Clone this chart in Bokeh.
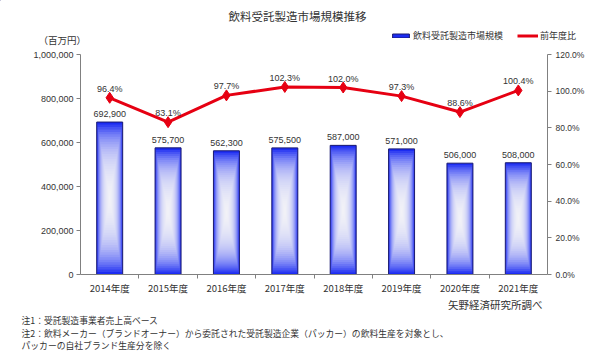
import numpy as np
from bokeh.plotting import figure
from bokeh.layouts import column
from bokeh.models import (Range1d, LinearAxis, FixedTicker, NumeralTickFormatter,
                          PrintfTickFormatter, Legend, LegendItem)
from bokeh.core.properties import value
from bokeh.embed import file_html
from bokeh.resources import INLINE

# ---- data ----
years = ["2014年度", "2015年度", "2016年度", "2017年度", "2018年度", "2019年度", "2020年度", "2021年度"]
market = [692900, 575700, 562300, 575500, 587000, 571000, 506000, 508000]
yoy = [96.4, 83.1, 97.7, 102.3, 102.0, 97.3, 88.6, 100.4]
left_ticks = [0, 200000, 400000, 600000, 800000, 1000000]
right_ticks = [0, 20, 40, 60, 80, 100, 120]

title_text = "飲料受託製造市場規模推移"
unit_text = "（百万円）"
bar_name = "飲料受託製造市場規模"
line_name = "前年度比"
source_text = "矢野経済研究所調べ"
notes = [
    "注1：受託製造事業者売上高ベース",
    "注2：飲料メーカー（ブランドオーナー）から委託された受託製造企業（パッカー）の飲料生産を対象とし、",
    "パッカーの自社ブランド生産分を除く",
]

JP = "Noto Sans CJK JP"
NUM = "Liberation Sans"
TXT = "#333333"
BLUE = "#1c2cf2"
EDGE = "#1a1a70"
RED = "#e60012"

W = 600
TOP_H = 48
MAIN_T, FRAME_H, MAIN_B = 6, 220, 23
MAIN_H = MAIN_T + FRAME_H + MAIN_B
BOT_H = 354 - TOP_H - MAIN_H


def blank(h):
    f = figure(width=W, height=h, output_backend="svg", toolbar_location=None,
               x_range=Range1d(0, W), y_range=Range1d(h, 0),
               x_axis_location=None, y_axis_location=None,
               min_border=0, title=None, frame_align=False)
    f.outline_line_color = None
    f.xgrid.visible = False
    f.ygrid.visible = False
    return f


# ---- top strip: title, unit, legend ----
top = blank(TOP_H)
top.text(x=[297], y=[15], text=[title_text], text_align="center", text_baseline="middle",
         text_font=value(JP), text_font_size="11.5px", text_color=TXT)
top.text(x=[38], y=[39], text=[unit_text], text_align="left", text_baseline="middle",
         text_font=value(JP), text_font_size="9.5px", text_color=TXT)
# off-screen stand-ins that only supply the legend keys
d_bar = top.vbar(x=[-1000], top=[0], width=1, fill_color=BLUE, line_color=EDGE, line_width=1)
d_line = top.line(x=[-1000, -999], y=[0, 0], line_color=RED, line_width=3)
d_sc = top.scatter(x=[-1000], y=[0], marker="diamond", size=7, fill_color=RED, line_color=RED)
leg = Legend(items=[LegendItem(label=bar_name, renderers=[d_bar]),
                    LegendItem(label=line_name, renderers=[d_line, d_sc])],
             location=(390, 6), orientation="horizontal",
             glyph_width=21, glyph_height=5, label_text_font=JP, label_text_font_size="9px",
             label_text_color=TXT, label_standoff=2, spacing=14, padding=0, margin=0,
             border_line_color=None, background_fill_alpha=0, label_height=12)
top.add_layout(leg, "center")

# ---- main chart ----
x = [i + 0.5 for i in range(len(years))]
bw = 0.445

p = figure(width=W, height=MAIN_H, output_backend="svg", toolbar_location=None,
           x_range=Range1d(0, len(years)), y_range=Range1d(0, 1_000_000),
           min_border_left=80, min_border_right=53, min_border_top=MAIN_T, min_border_bottom=MAIN_B,
           title=None, frame_align=False)
p.outline_line_color = None
p.xgrid.visible = False
p.ygrid.visible = False

ya = p.yaxis[0]
ya.ticker = FixedTicker(ticks=left_ticks)
ya.formatter = NumeralTickFormatter(format="0,0")
ya.axis_line_color = "#808080"
ya.major_tick_line_color = "#808080"
ya.major_tick_out = 4
ya.major_tick_in = 0
ya.minor_tick_line_color = None
ya.major_label_text_font = NUM
ya.major_label_text_font_size = "9px"
ya.major_label_text_color = TXT
ya.major_label_standoff = 3

xa = p.xaxis[0]
xa.ticker = FixedTicker(ticks=x, minor_ticks=list(range(1, len(years))))
xa.major_label_overrides = {xi: y for xi, y in zip(x, years)}
xa.axis_line_color = "#808080"
xa.major_tick_line_color = None
xa.major_tick_out = 0
xa.major_tick_in = 0
xa.minor_tick_line_color = "#808080"
xa.minor_tick_out = 4
xa.minor_tick_in = 0
xa.major_label_text_font = JP
xa.major_label_text_font_size = "9.5px"
xa.major_label_text_color = TXT
xa.major_label_standoff = 2

p.extra_y_ranges = {"pct": Range1d(0, 120)}
ra = LinearAxis(y_range_name="pct", ticker=FixedTicker(ticks=right_ticks),
                formatter=PrintfTickFormatter(format="%.1f%%"))
ra.axis_line_color = "#808080"
ra.major_tick_line_color = "#808080"
ra.major_tick_out = 4
ra.major_tick_in = 0
ra.minor_tick_line_color = None
ra.major_label_text_font = NUM
ra.major_label_text_font_size = "8.5px"
ra.major_label_text_color = TXT
ra.major_label_standoff = 4
p.add_layout(ra, "right")

# bars with a centre-bright gradient built from nested translucent rectangles
p.vbar(x=x, top=market, width=bw, fill_color=BLUE, line_color=None)
N = 30
gx, gy, gw, gh = [], [], [], []
for k in range(1, N + 1):
    s = 1 - k / (N + 1)
    for xi, m in zip(x, market):
        gx.append(xi); gy.append(m / 2); gw.append(bw * s); gh.append(m * s)
p.rect(x=gx, y=gy, width=gw, height=gh, fill_color="white", fill_alpha=0.1, line_color=None)
p.vbar(x=x, top=market, width=bw, fill_color=None, line_color=EDGE, line_width=1)

p.text(x=x, y=market, text=[f"{m:,}" for m in market], text_align="center", text_baseline="bottom",
       y_offset=-5, text_font=value(NUM), text_font_size="9px", text_color=TXT)

p.line(x=x, y=yoy, y_range_name="pct", line_color=RED, line_width=3)
p.scatter(x=x, y=yoy, y_range_name="pct", marker="diamond", size=11,
          fill_color=RED, line_color=RED)
p.text(x=x, y=yoy, y_range_name="pct", text=[f"{v:.1f}%" for v in yoy], text_align="center",
       text_baseline="bottom", y_offset=-4, text_font=value(NUM), text_font_size="9px", text_color=TXT)

# ---- bottom strip: source and notes ----
y0 = TOP_H + MAIN_H
bot = blank(BOT_H)
bot.text(x=[542], y=[7], text=[source_text], text_align="right", text_baseline="middle",
         text_font=value(JP), text_font_size="10.5px", text_color=TXT)
bot.text(x=[21, 21, 21], y=[320 - y0, 332.5 - y0, 345 - y0], text=notes, text_align="left",
         text_baseline="middle", text_font=value(JP), text_font_size="8.8px", text_color=TXT)

layout = column(top, p, bot, spacing=0)
open("out.html", "w").write(file_html(layout, INLINE))
